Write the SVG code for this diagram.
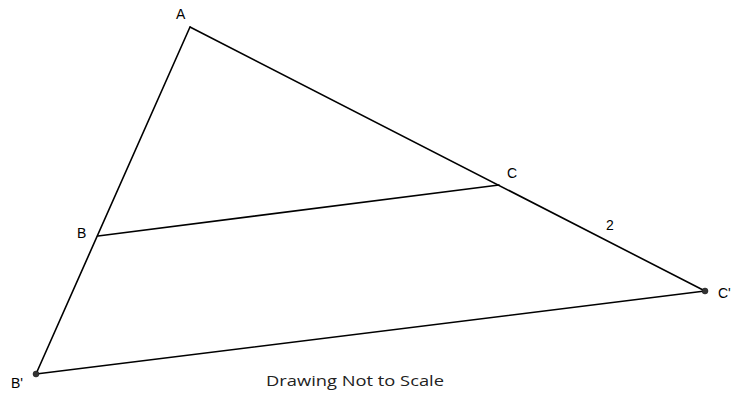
<svg xmlns="http://www.w3.org/2000/svg" width="732" height="393" viewBox="0 0 732 393">
<style>
.ln{stroke:#000;stroke-width:1.6;fill:none;stroke-linecap:round}
.lb{font-family:"Liberation Sans",Arial,sans-serif;font-size:14px;fill:#000}
.pt{fill:#333;stroke:#111;stroke-width:0.5}
</style>
<rect width="732" height="393" fill="#fff"/>
<g id="connectors">
<line class="ln" x1="190" y1="27" x2="36" y2="374"/>
<line class="ln" x1="190" y1="27" x2="705" y2="291"/>
<line class="ln" x1="98" y1="236" x2="499" y2="185"/>
<line class="ln" x1="36" y1="374" x2="705" y2="291"/>
</g>
<g id="A"><text class="lb" x="176" y="19">A</text></g>
<g id="B"><text class="lb" x="77" y="238">B</text></g>
<g id="C"><text class="lb" x="507" y="178">C</text></g>
<g id="Cp"><circle class="pt" cx="705" cy="291" r="3"/><text class="lb" x="718" y="298">C'</text></g>
<g id="Bp"><circle class="pt" cx="36" cy="374" r="3"/><text class="lb" x="11" y="388">B'</text></g>
<g id="label2"><text class="lb" x="606" y="230">2</text></g>
<text x="266" y="386" font-family="'Open Sans','Liberation Sans',sans-serif" font-size="14.5" fill="#222" textLength="178" lengthAdjust="spacingAndGlyphs">Drawing Not to Scale</text>
</svg>
